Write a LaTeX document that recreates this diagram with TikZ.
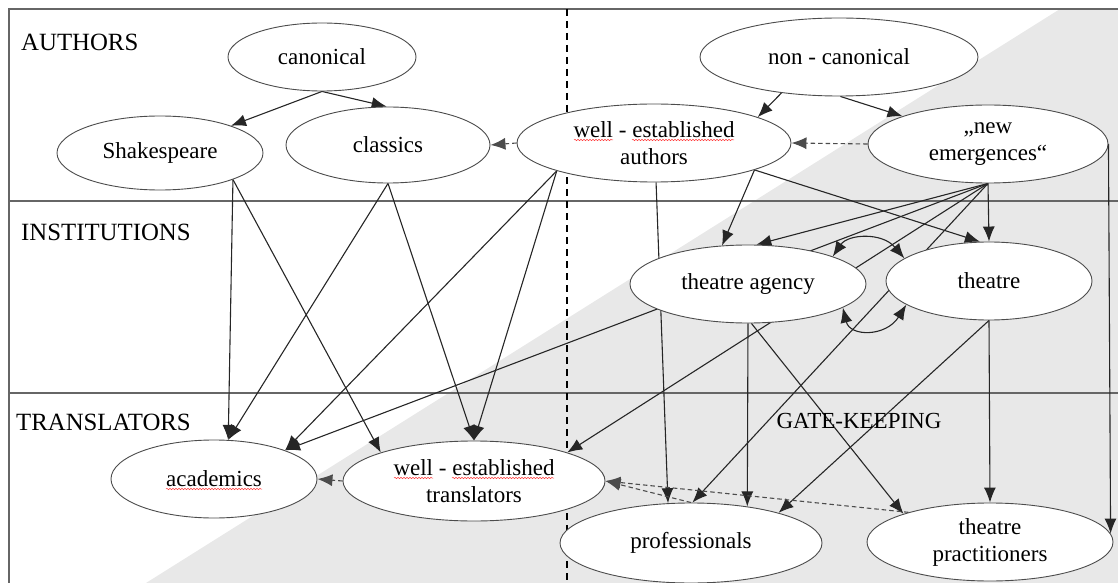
\documentclass[tikz,border=0pt]{standalone}
\usepackage{fontspec}
\setmainfont{Liberation Serif}
\usetikzlibrary{shapes.geometric,arrows.meta,decorations.pathmorphing}
\pgfdeclarelayer{back}
\pgfdeclarelayer{links}
\pgfsetlayers{back,links,main}

\begin{document}
\begin{tikzpicture}[x=1bp,y=-1bp,
  every node/.style={font=\fontsize{23bp}{27bp}\selectfont, text=black},
  oval/.style={ellipse, draw=black!70, line width=0.9bp, fill=white, inner sep=0pt, align=center},
  arr/.style={draw=black!85, line width=1.1bp, -{Latex[length=15bp,width=12bp]}},
  darr/.style={arr, draw=black!70, dash pattern=on 4.5bp off 3bp},
  twoway/.style={draw=black!85, line width=1.1bp, {Latex[length=15bp,width=12bp]}-{Latex[length=15bp,width=12bp]}},
  rule/.style={draw=black!60, line width=1.3bp},
  zone/.style={anchor=west, inner sep=0pt, font=\fontsize{24.8bp}{28bp}\selectfont},
  squig/.style={draw=red!75, line width=0.5bp, decorate, decoration={snake, amplitude=0.7bp, segment length=3bp}}
]
\useasboundingbox (0,0) rectangle (1118,583);

% shaded gate-keeping area and the frame of the three rows
\begin{pgfonlayer}{back}
  \fill[black!9] (146,583) -- (1060,9) -- (1118,9) -- (1118,583) -- cycle;
  \draw[rule] (9,583) -- (9,9) -- (1118,9);
  \draw[rule] (9,201) -- (1118,201);
  \draw[rule] (9,393) -- (1118,393);
  \draw[black, line width=1.5bp, dash pattern=on 7bp off 5bp] (567,9) -- (567,583);
\end{pgfonlayer}

% row titles
\node[zone] (lauth) at (21,42) {AUTHORS};
\node[zone] (linst) at (21,232) {INSTITUTIONS};
\node[zone] (ltrans) at (16,422) {TRANSLATORS};
\node (lgate) at (859,421) {GATE-KEEPING};

% authors
\node[oval, minimum width=188bp, minimum height=68bp] (can) at (322,57) {canonical};
\node[oval, minimum width=206bp, minimum height=74bp] (shk) at (160,153) {Shakespeare};
\node[oval, minimum width=204bp, minimum height=76bp] (cla) at (388,145) {classics};
\node[oval, minimum width=274bp, minimum height=78bp] (wea) at (654,143) {well - established\\authors};
\node[oval, minimum width=278bp, minimum height=78bp] (ncan) at (839,57) {non - canonical};
\node[oval, minimum width=240bp, minimum height=78bp] (nem) at (988,144) {„new\\emergences“};
% institutions
\node[oval, minimum width=236bp, minimum height=78bp] (tag) at (748,284) {theatre agency};
\node[oval, minimum width=206bp, minimum height=78bp] (the) at (989,281) {theatre};
% translators
\node[oval, minimum width=206bp, minimum height=78bp] (aca) at (214,479) {academics};
\node[oval, minimum width=262bp, minimum height=80bp] (wet) at (474,481) {well - established\\translators};
\node[oval, minimum width=262bp, minimum height=80bp] (pro) at (691,543) {professionals};
\node[oval, minimum width=246bp, minimum height=78bp] (tpr) at (990,542) {theatre\\practitioners};

% spell-check marks under the words
\draw[squig] (574,140) -- (613,140);
\draw[squig] (632,140) -- (734,140);
\draw[squig] (394,478) -- (433,478);
\draw[squig] (452,478) -- (554,478);
\draw[squig] (166,489) -- (262,489);

\begin{pgfonlayer}{links}
  % within the authors row
  \draw[arr] (can.south) -- (shk.21);
  \draw[arr] (can.south) -- (cla.92);
  \draw[darr] (wea.west) -- (cla.east);
  \draw[arr] (ncan.212) -- (wea.14);
  \draw[arr] (ncan.-88) -- (nem.162);
  \draw[darr] (nem.west) -- (wea.east);
  % canonical authors to translators
  \draw[arr] (shk.-20) -- (aca.70);
  \draw[arr] (shk.-20) -- (wet.163);
  \draw[arr] (cla.south) -- (aca.70);
  \draw[arr] (cla.south) -- (wet.north);
  % well-established authors
  \draw[arr] (wea.196) -- (aca.22);
  \draw[arr] (wea.196) -- (wet.north);
  \draw[arr] (wea.-87) -- (pro.120);
  \draw[arr] (wea.-15) -- (tag.124);
  \draw[arr] (wea.-15) -- (the.103);
  % new emergences
  \draw[arr] (nem.south) -- (tag.78);
  \draw[arr] (nem.south) -- (aca.22);
  \draw[arr] (nem.south) -- (wet.17);
  \draw[arr] (nem.south) -- (pro.88);
  \draw[arr] (nem.south) -- (the.north);
  \draw[arr] (nem.east) -- (tpr.4);
  % institutions
  \draw[arr] (tag.south) -- (pro.33);
  \draw[arr] (tag.-85) -- (tpr.162);
  \draw[arr] (the.south) -- (pro.19);
  \draw[arr] (the.south) -- (tpr.north);
  \draw[twoway] (tag.18) .. controls (848,234) and (882,232) .. (the.165);
  \draw[twoway] (tag.-14) .. controls (850,337) and (886,337) .. (the.196);
  % translators
  \draw[darr] (wet.west) -- (aca.east);
  \draw[darr] (pro.90) -- (wet.east);
  \draw[darr] (tpr.160) -- (wet.east);
\end{pgfonlayer}
\end{tikzpicture}
\end{document}
